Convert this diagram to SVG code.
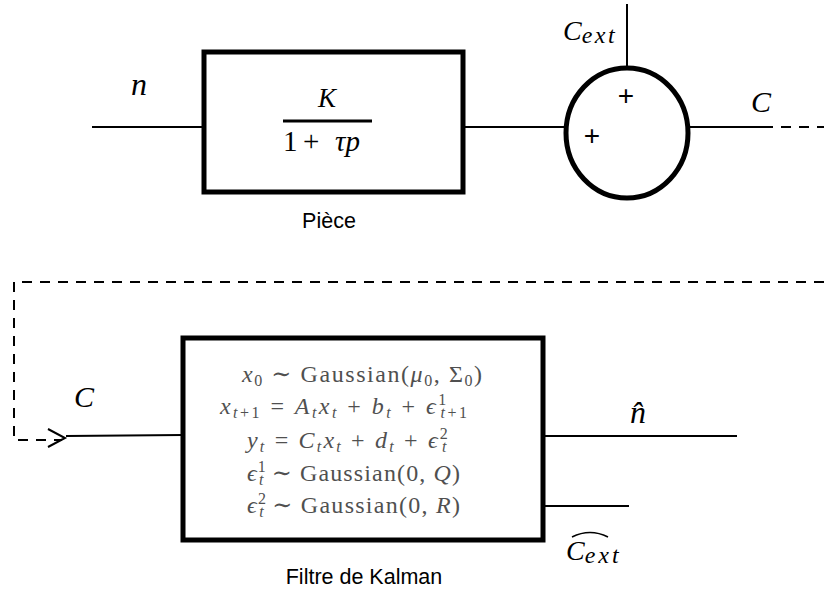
<svg xmlns="http://www.w3.org/2000/svg" width="824" height="591" viewBox="0 0 824 591">
  <style>
    .blk { fill: none; stroke: #000; stroke-width: 5; }
    .ln { fill: none; stroke: #000; stroke-width: 2; }
    .dash { fill: none; stroke: #000; stroke-width: 2; stroke-dasharray: 10 8; }
    .math { font-family: "Liberation Serif", "DejaVu Serif", serif; font-style: italic; fill: #000; }
    .up { font-style: normal; }
    .lbl { font-family: "Liberation Sans", Arial, sans-serif; font-size: 21.5px; fill: #000; text-anchor: middle; }
    .eq { font-family: "Liberation Serif", "DejaVu Serif", serif; font-size: 24px; fill: #505050; }
    .eq .i { font-style: italic; }
    .eq .s { font-size: 16px; }
    .plus { font-family: "Liberation Sans", Arial, sans-serif; font-size: 28px; fill: #000; text-anchor: middle; }
  </style>
  <rect width="824" height="591" fill="#fff"/>

  <g id="connectors">
    <line class="ln" x1="92" y1="127" x2="204" y2="127"/>
    <line class="ln" x1="463" y1="127" x2="566" y2="127"/>
    <line class="ln" x1="627" y1="4" x2="627" y2="68"/>
    <line class="ln" x1="688" y1="127" x2="763" y2="127"/>
    <line class="dash" x1="763" y1="127" x2="824" y2="127"/>
    <polyline class="dash" points="824,282 14,282 14,440 62,440"/>
    <polyline class="ln" points="48,429 65,438 48,447"/>
    <line class="ln" x1="66" y1="436" x2="183" y2="435"/>
    <line class="ln" x1="543" y1="436" x2="737" y2="436"/>
    <line class="ln" x1="543" y1="506" x2="629" y2="506"/>
  </g>

  <g id="label-n">
    <text class="math" x="131" y="95" font-size="32">n</text>
  </g>

  <g id="piece">
    <rect class="blk" x="204" y="52" width="259" height="140"/>
    <text class="math" x="327" y="107" font-size="27" text-anchor="middle">K</text>
    <line x1="283" y1="121" x2="372" y2="121" stroke="#000" stroke-width="3"/>
    <text class="math" x="283" y="151" font-size="29"><tspan class="up">1</tspan><tspan class="up" x="303">+</tspan><tspan x="335">τp</tspan></text>
    <text class="lbl" x="329" y="228">Pièce</text>
  </g>

  <g id="sum">
    <ellipse class="blk" cx="627" cy="133" rx="61" ry="65"/>
    <text class="plus" x="626" y="105">+</text>
    <text class="plus" x="592" y="145">+</text>
  </g>

  <g id="label-cext">
    <text class="math" x="563" y="40" font-size="28">C<tspan font-size="24" dy="3" textLength="33">ext</tspan></text>
  </g>

  <g id="label-c-out">
    <text class="math" x="751" y="112" font-size="30">C</text>
  </g>

  <g id="label-c-in">
    <text class="math" x="74" y="407" font-size="30">C</text>
  </g>

  <g id="kalman">
    <rect class="blk" x="183" y="338" width="360" height="202"/>
    <text class="eq" x="242" y="382" textLength="240" lengthAdjust="spacing"><tspan class="i">x</tspan><tspan class="s" dy="4">0</tspan><tspan dy="-4"> ∼ Gaussian(</tspan><tspan class="i">μ</tspan><tspan class="s" dy="4">0</tspan><tspan dy="-4">, Σ</tspan><tspan class="s" dy="4">0</tspan><tspan dy="-4">)</tspan></text>
    <text class="eq" x="220" y="414" textLength="247" lengthAdjust="spacing"><tspan class="i">x</tspan><tspan class="s i" dy="4">t</tspan><tspan class="s">+1</tspan><tspan dy="-4"> = </tspan><tspan class="i">A</tspan><tspan class="s i" dy="4">t</tspan><tspan class="i" dy="-4">x</tspan><tspan class="s i" dy="4">t</tspan><tspan dy="-4"> + </tspan><tspan class="i">b</tspan><tspan class="s i" dy="4">t</tspan><tspan dy="-4"> + </tspan><tspan class="i">ϵ</tspan><tspan class="s" dy="-9">1</tspan><tspan class="s i" dx="-8" dy="13">t</tspan><tspan class="s">+1</tspan></text>
    <text class="eq" x="247" y="448" textLength="203" lengthAdjust="spacing"><tspan class="i">y</tspan><tspan class="s i" dy="4">t</tspan><tspan dy="-4"> = </tspan><tspan class="i">C</tspan><tspan class="s i" dy="4">t</tspan><tspan class="i" dy="-4">x</tspan><tspan class="s i" dy="4">t</tspan><tspan dy="-4"> + </tspan><tspan class="i">d</tspan><tspan class="s i" dy="4">t</tspan><tspan dy="-4"> + </tspan><tspan class="i">ϵ</tspan><tspan class="s" dy="-9">2</tspan><tspan class="s i" dx="-8" dy="13">t</tspan></text>
    <text class="eq" x="247" y="481" textLength="213" lengthAdjust="spacing"><tspan class="i">ϵ</tspan><tspan class="s" dy="-9">1</tspan><tspan class="s i" dx="-8" dy="13">t</tspan><tspan dy="-4"> ∼ Gaussian(0, </tspan><tspan class="i">Q</tspan><tspan>)</tspan></text>
    <text class="eq" x="247" y="513" textLength="213" lengthAdjust="spacing"><tspan class="i">ϵ</tspan><tspan class="s" dy="-9">2</tspan><tspan class="s i" dx="-8" dy="13">t</tspan><tspan dy="-4"> ∼ Gaussian(0, </tspan><tspan class="i">R</tspan><tspan>)</tspan></text>
    <text class="lbl" x="364" y="584">Filtre de Kalman</text>
  </g>

  <g id="label-nhat">
    <text class="math" x="630" y="423" font-size="32">n̂</text>
  </g>

  <g id="label-cext-hat">
    <text class="math" x="566" y="560" font-size="28">C<tspan font-size="24" dy="3" textLength="34">ext</tspan></text>
    <path d="M572,537 Q590,528 608,537" fill="none" stroke="#000" stroke-width="1.5"/>
  </g>
</svg>
